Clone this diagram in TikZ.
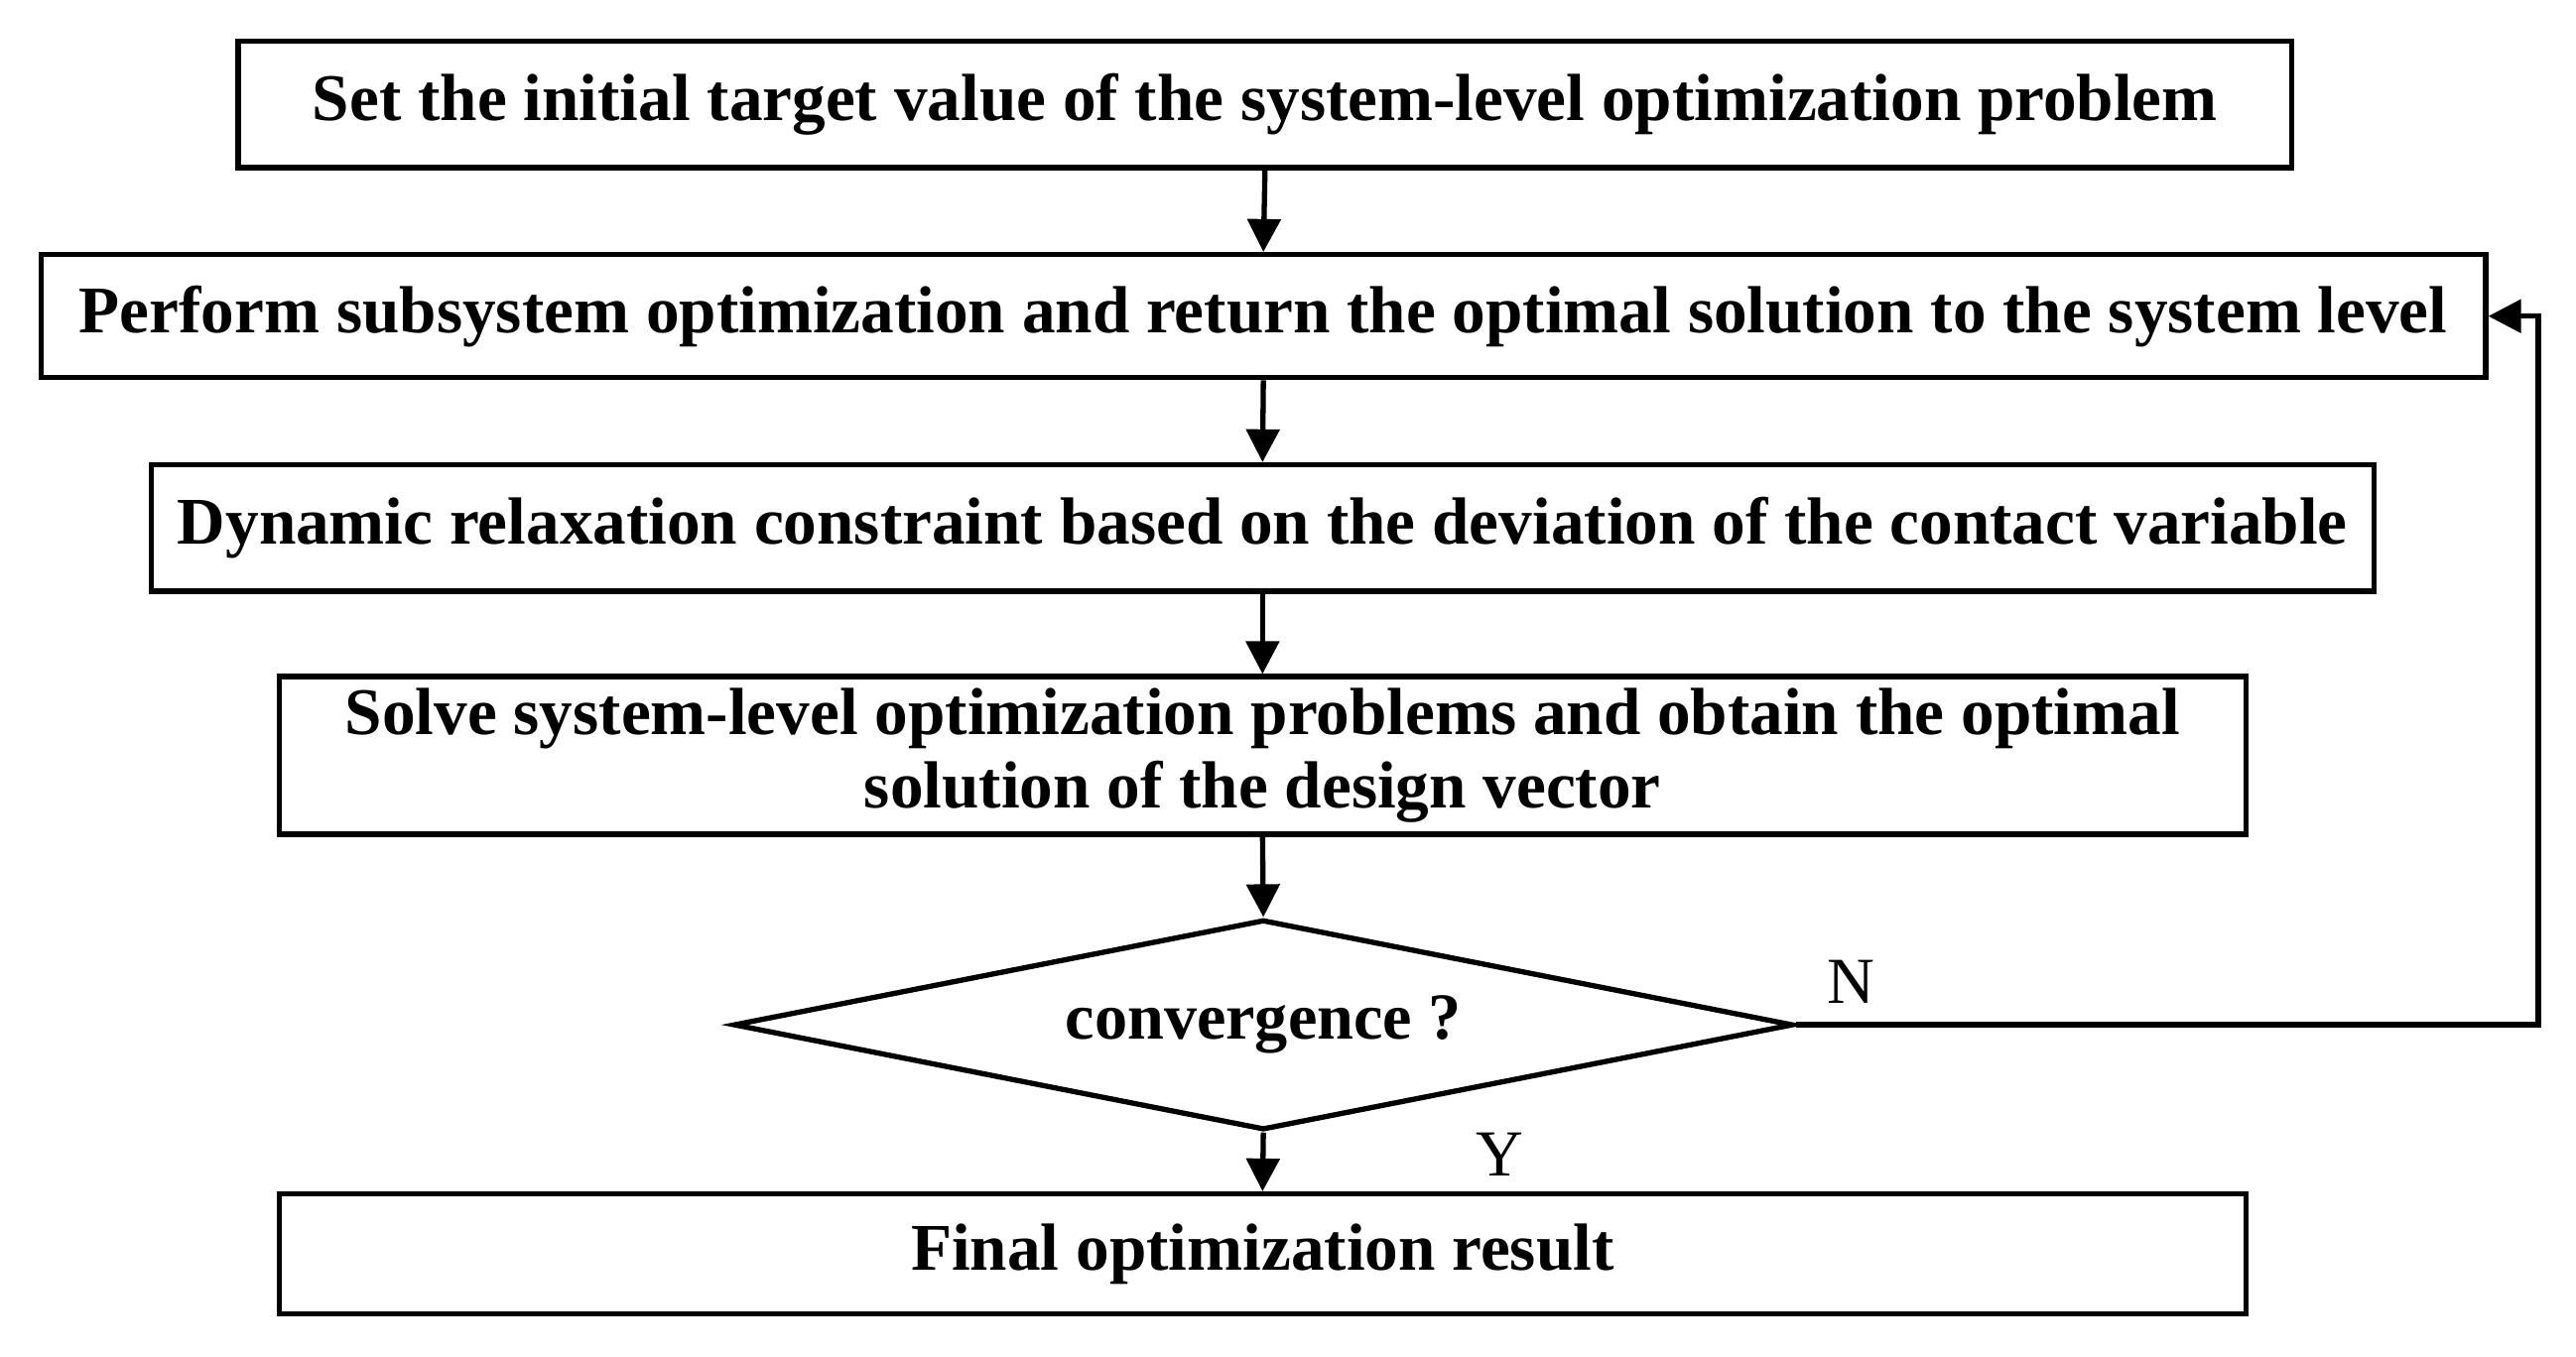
\documentclass[tikz,border=0pt]{standalone}
\usepackage{fontspec}
\setmainfont{Liberation Serif}
\usetikzlibrary{shapes.geometric,arrows.meta}
\begin{document}
\begin{tikzpicture}[x=0.5pt,y=-0.5pt,
  box/.style={draw,line width=1.6pt,inner sep=0pt,font=\fontsize{20.3}{22.5}\selectfont\bfseries,align=center},
  arr/.style={line width=1.6pt,-{Triangle[length=10pt,width=10pt]}},
  lab/.style={font=\fontsize{20}{22}\selectfont}]
\useasboundingbox (0,0) rectangle (1568,826);
\node[box,minimum width=625pt,minimum height=38.5pt] (b1) at (770,63.5) {Set the initial target value of the system-level optimization problem};
\node[box,minimum width=744pt,minimum height=37.5pt] (b2) at (769,192.5) {Perform subsystem optimization and return the optimal solution to the system level};
\node[box,minimum width=676.5pt,minimum height=38.5pt] (b3) at (768.5,321.5) {Dynamic relaxation constraint based on the deviation of the contact variable};
\node[box,minimum width=598.5pt,minimum height=48pt] (b4) at (768.5,460) {Solve system-level optimization problems and obtain the optimal\\solution of the design vector};
\node[draw,line width=1.6pt,diamond,aspect=5,inner sep=0pt,minimum width=322.5pt,minimum height=64pt,font=\fontsize{20}{22}\selectfont\bfseries] (d) at (769,624) {convergence ?};
\node[box,minimum width=598.5pt,minimum height=36.5pt] (b5) at (768.5,763.5) {Final optimization result};
\draw[arr] (b1.south) -- (b2.north);
\draw[arr] (b2.south) -- (b3.north);
\draw[arr] (b3.south) -- (b4.north);
\draw[arr] (b4.south) -- (d.north);
\draw[arr] (d.south) -- (b5.north);
\coordinate (c1) at (1545,624);
\coordinate (c2) at (1545,192.5);
\draw[arr] (d.east) -- (c1) -- (c2) -- (b2.east);
\node[lab] (n) at (1127,598) {N};
\node[lab] (y) at (913,703) {Y};
\end{tikzpicture}
\end{document}
